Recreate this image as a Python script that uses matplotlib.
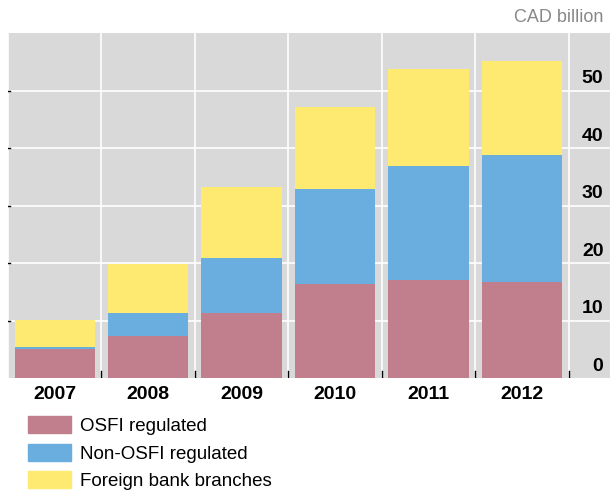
import matplotlib.pyplot as plt
from matplotlib.patches import Patch

plt.rcParams['font.family'] = ['Liberation Sans', 'DejaVu Sans']

years = ['2007', '2008', '2009', '2010', '2011', '2012']
osfi = [5.0, 7.3, 11.3, 16.3, 17.0, 16.7]
non_osfi = [0.4, 4.0, 9.6, 16.6, 19.8, 22.1]
foreign = [4.7, 8.5, 12.3, 14.2, 16.9, 16.3]
yticks = [0, 10, 20, 30, 40, 50]

c_osfi = '#c17f8e'
c_non = '#6aaddf'
c_for = '#fee971'

fig = plt.figure(figsize=(6.1, 4.93), dpi=100)
ax = fig.add_axes([8 / 610, (493 - 378) / 493, 602 / 610, 345 / 493])
ax.set_facecolor('#d9d9d9')

x = list(range(len(years)))
bottom2 = [a + b for a, b in zip(osfi, non_osfi)]
ax.bar(x, osfi, width=0.86, color=c_osfi, zorder=3)
ax.bar(x, non_osfi, width=0.86, bottom=osfi, color=c_non, zorder=3)
ax.bar(x, foreign, width=0.86, bottom=bottom2, color=c_for, zorder=3)

for t in yticks[1:]:
    ax.axhline(t, color='white', lw=1.2, zorder=1)
for b in range(len(years) + 1):
    ax.axvline(b - 0.5, color='white', lw=1.2, zorder=1)
    if b > 0:
        ax.plot([b - 0.5, b - 0.5], [0, 1.3], color='black', lw=1, zorder=4)
for t in yticks[1:]:
    ax.plot([-0.5, -0.48], [t, t], color='black', lw=1, zorder=4)

for t in yticks:
    ax.text(5.87, t + 0.6, str(t), ha='right', va='bottom', fontsize=14,
            fontweight='bold', zorder=5)

ax.set_xlim(-0.5, 5.94)
ax.set_ylim(0, 60)
ax.set_xticks(x)
ax.set_xticklabels(years, fontsize=14, fontweight='bold')
ax.tick_params(axis='x', length=0, pad=6)
ax.set_yticks([])
for s in ax.spines.values():
    s.set_visible(False)

fig.text(603 / 610, 1 - 18 / 493, 'CAD billion', ha='right', va='center',
         fontsize=13, color='#888888')

handles = [Patch(color=c_osfi, label='OSFI regulated'),
           Patch(color=c_non, label='Non-OSFI regulated'),
           Patch(color=c_for, label='Foreign bank branches')]
fig.legend(handles=handles, loc='upper left', bbox_to_anchor=(28 / 610, 1 - 416 / 493),
           frameon=False, fontsize=13.5, handlelength=2.3, handleheight=1.05,
           labelspacing=0.45, handletextpad=0.45, borderpad=0, borderaxespad=0)

fig.savefig('out.png', dpi=100)
